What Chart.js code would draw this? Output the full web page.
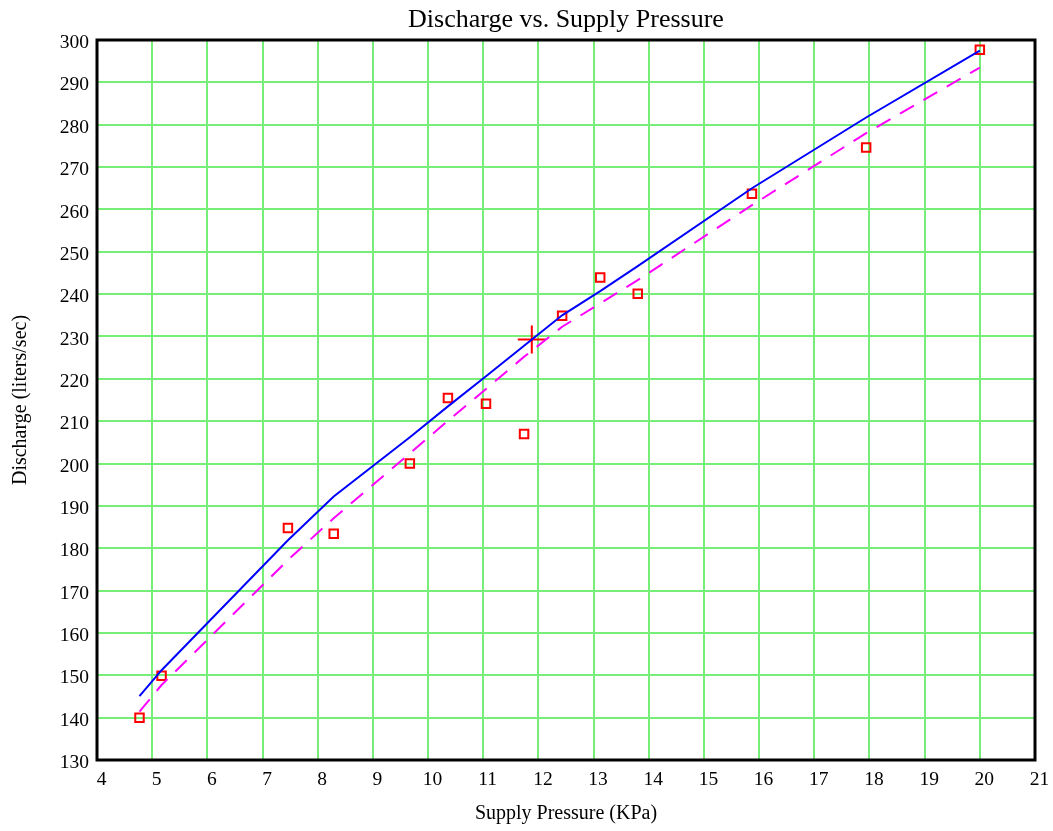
<!DOCTYPE html>
<html>
<head>
<meta charset="utf-8">
<script src="https://cdn.jsdelivr.net/npm/chart.js@4"></script>
<style>
  html, body { margin: 0; padding: 0; background: #fff; }
  #wrap { width: 1053px; height: 831px; }
</style>
</head>
<body>
<div id="wrap"><canvas id="chart"></canvas></div>
<script>
const pressure = [4.77, 5.17, 7.46, 8.29, 9.67, 10.36, 11.05, 11.74, 12.43, 13.12, 13.80, 15.87, 17.94, 20.0]
const measured = [140.0, 149.9, 184.8, 183.4, 200.0, 215.5, 214.1, 207.0, 234.9, 243.9, 240.1, 263.7, 274.6, 297.7]
const fitSolid = [145.1, 151.2, 181.9, 192.2, 206.2, 213.5, 220.6, 227.8, 235.0, 240.7, 246.6, 265.0, 281.7, 297.5]
const fitDashed = [141.4, 147.7, 177.2, 187.1, 202.4, 210.1, 217.6, 225.2, 232.3, 237.8, 243.3, 261.0, 278.0, 293.5]
const markX = [11.88]
const markY = [229.3]

const serif = "'Liberation Serif', 'Times New Roman', serif"
const toPoints = (xs, ys) => xs.map((x, i) => ({ x: x, y: ys[i] }))

// frame round the plot area
const frame = {
    id: 'frame',
    afterDraw(chart) {
        const { ctx, chartArea: a } = chart
        ctx.save()
        ctx.strokeStyle = '#000'
        ctx.lineWidth = 3
        ctx.strokeRect(a.left, a.top, a.right - a.left, a.bottom - a.top)
        ctx.restore()
    }
}

document.addEventListener('DOMContentLoaded', () => {
    const ctx = document.getElementById('chart')
    new Chart(ctx, {
        type: 'scatter',
        data: {
            datasets: [
                {
                    label: 'fit dashed',
                    data: toPoints(pressure, fitDashed),
                    showLine: true,
                    borderColor: '#ff00ff',
                    borderWidth: 2,
                    borderDash: [16, 11],
                    pointRadius: 0,
                    tension: 0
                },
                {
                    label: 'fit',
                    data: toPoints(pressure, fitSolid),
                    showLine: true,
                    borderColor: '#0000ff',
                    borderWidth: 2,
                    pointRadius: 0,
                    tension: 0
                },
                {
                    label: 'measured',
                    data: toPoints(pressure, measured),
                    pointStyle: 'rect',
                    pointRadius: 6,
                    borderWidth: 2,
                    borderColor: '#ff0000',
                    backgroundColor: 'rgba(0,0,0,0)'
                },
                {
                    label: 'mark',
                    data: toPoints(markX, markY),
                    pointStyle: 'cross',
                    pointRadius: 14,
                    borderWidth: 2,
                    borderColor: '#ff0000'
                }
            ]
        },
        options: {
            responsive: true,
            maintainAspectRatio: false,
            animation: false,
            layout: { padding: { left: 0, right: 18, top: 0, bottom: 0 } },
            plugins: {
                legend: { display: false },
                tooltip: { enabled: false },
                title: {
                    display: true,
                    fullSize: false,
                    text: 'Discharge vs. Supply Pressure',
                    color: '#000',
                    font: { family: serif, size: 26, weight: 'normal' },
                    padding: { top: 5, bottom: 3.8 }
                }
            },
            scales: {
                x: {
                    type: 'linear',
                    min: 4,
                    max: 21,
                    afterFit: (s) => { s.height = 71; s.paddingLeft = 0; s.paddingRight = 0 },
                    ticks: { stepSize: 1, color: '#000', padding: 8, labelOffset: 4.5, font: { family: serif, size: 19.5 } },
                    grid: { color: '#77ee77', lineWidth: 2, drawTicks: false },
                    border: { display: false },
                    title: {
                        display: true,
                        text: 'Supply Pressure (KPa)',
                        color: '#000',
                        font: { family: serif, size: 20 },
                        padding: { top: 0, bottom: 5 }
                    }
                },
                y: {
                    type: 'linear',
                    min: 130,
                    max: 300,
                    afterFit: (s) => { s.width = 97; s.paddingTop = 0; s.paddingBottom = 0 },
                    ticks: { stepSize: 10, color: '#000', padding: 8, labelOffset: 3, font: { family: serif, size: 19.5 } },
                    grid: { color: '#77ee77', lineWidth: 2, drawTicks: false },
                    border: { display: false },
                    title: {
                        display: true,
                        text: 'Discharge (liters/sec)',
                        color: '#000',
                        font: { family: serif, size: 20 },
                        padding: { top: 9, bottom: 0 }
                    }
                }
            }
        },
        plugins: [frame]
    })
})
</script>
</body>
</html>
